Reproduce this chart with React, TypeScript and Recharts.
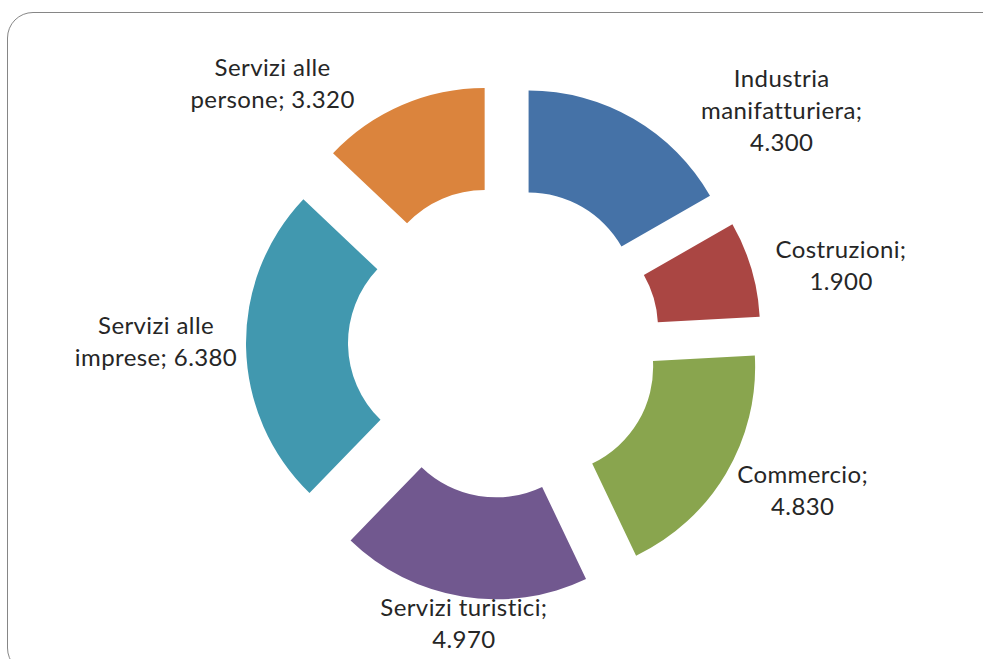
import { Pie, PieChart } from 'recharts';

const categories = [
  'Industria manifatturiera',
  'Costruzioni',
  'Commercio',
  'Servizi turistici',
  'Servizi alle imprese',
  'Servizi alle persone',
];
const values = [4300, 1900, 4830, 4970, 6380, 3320];
const colors = ['#4572A7', '#AA4643', '#89A54E', '#71588F', '#4198AF', '#DB843D'];

// label placement: clock angle (deg from 12 o'clock) and distance from the slice centre
const labelAngle = [53, 77.6, 115.4, 187.9, 270.6, 315.4];
const labelDist = [317, 297, 284, 234, 299, 302];
const labelWrap = [15, 12, 12, 18, 14, 14];

const CX = 499;
const CY = 337;
const INNER = 107;
const OUTER = 209;
const EXPLODE = 49;

const total = values.reduce((a, b) => a + b, 0);

const fmt = (v: number) => String(v).replace(/\B(?=(\d{3})+(?!\d))/g, '.');

function wrap(text: string, max: number) {
  const words = text.split(' ');
  const lines: string[] = [];
  let cur = '';
  words.forEach((w) => {
    if (!cur) cur = w;
    else if ((cur + ' ' + w).length <= max) cur += ' ' + w;
    else {
      lines.push(cur);
      cur = w;
    }
  });
  if (cur) lines.push(cur);
  return lines;
}

const slices = categories.map((name, i) => {
  const before = values.slice(0, i).reduce((a, b) => a + b, 0);
  const startAngle = 90 - (360 * before) / total;
  const endAngle = 90 - (360 * (before + values[i])) / total;
  const mid = ((startAngle + endAngle) / 2) * (Math.PI / 180);
  return {
    name,
    value: values[i],
    fill: colors[i],
    startAngle,
    endAngle,
    cx: CX + EXPLODE * Math.cos(mid),
    cy: CY - EXPLODE * Math.sin(mid),
  };
});

export default function App() {
  return (
    <div
      style={{
        position: 'absolute',
        left: 0,
        top: 0,
        width: 983,
        height: 659,
        overflow: 'hidden',
        background: '#fff',
      }}
    >
      <div
        style={{
          position: 'absolute',
          left: 7,
          top: 12,
          width: 1000,
          height: 660,
          border: '1.5px solid #868686',
          borderRadius: 26,
        }}
      />
      <PieChart width={983} height={659} style={{ position: 'absolute', left: 0, top: 0 }}>
        {slices.map((s, i) => (
          <Pie
            key={s.name}
            data={[s]}
            dataKey="value"
            nameKey="name"
            cx={s.cx}
            cy={s.cy}
            startAngle={s.startAngle}
            endAngle={s.endAngle}
            innerRadius={INNER}
            outerRadius={OUTER}
            fill={s.fill}
            stroke="none"
            isAnimationActive={false}
            labelLine={false}
            label={(p: any) => {
              const a = (labelAngle[i] * Math.PI) / 180;
              const x = p.cx + labelDist[i] * Math.sin(a);
              const y = p.cy - labelDist[i] * Math.cos(a);
              const lines = wrap(`${s.name}; ${fmt(s.value)}`, labelWrap[i]);
              const lh = 32;
              const y0 = y - ((lines.length - 1) * lh) / 2;
              return (
                <text
                  x={x}
                  y={y0}
                  textAnchor="middle"
                  dominantBaseline="central"
                  fill="#262626"
                  style={{ fontFamily: 'Lato, sans-serif', fontSize: 24, letterSpacing: 0.4 }}
                >
                  {lines.map((l, k) => (
                    <tspan key={k} x={x} y={y0 + k * lh}>
                      {l}
                    </tspan>
                  ))}
                </text>
              );
            }}
          />
        ))}
      </PieChart>
    </div>
  );
}
